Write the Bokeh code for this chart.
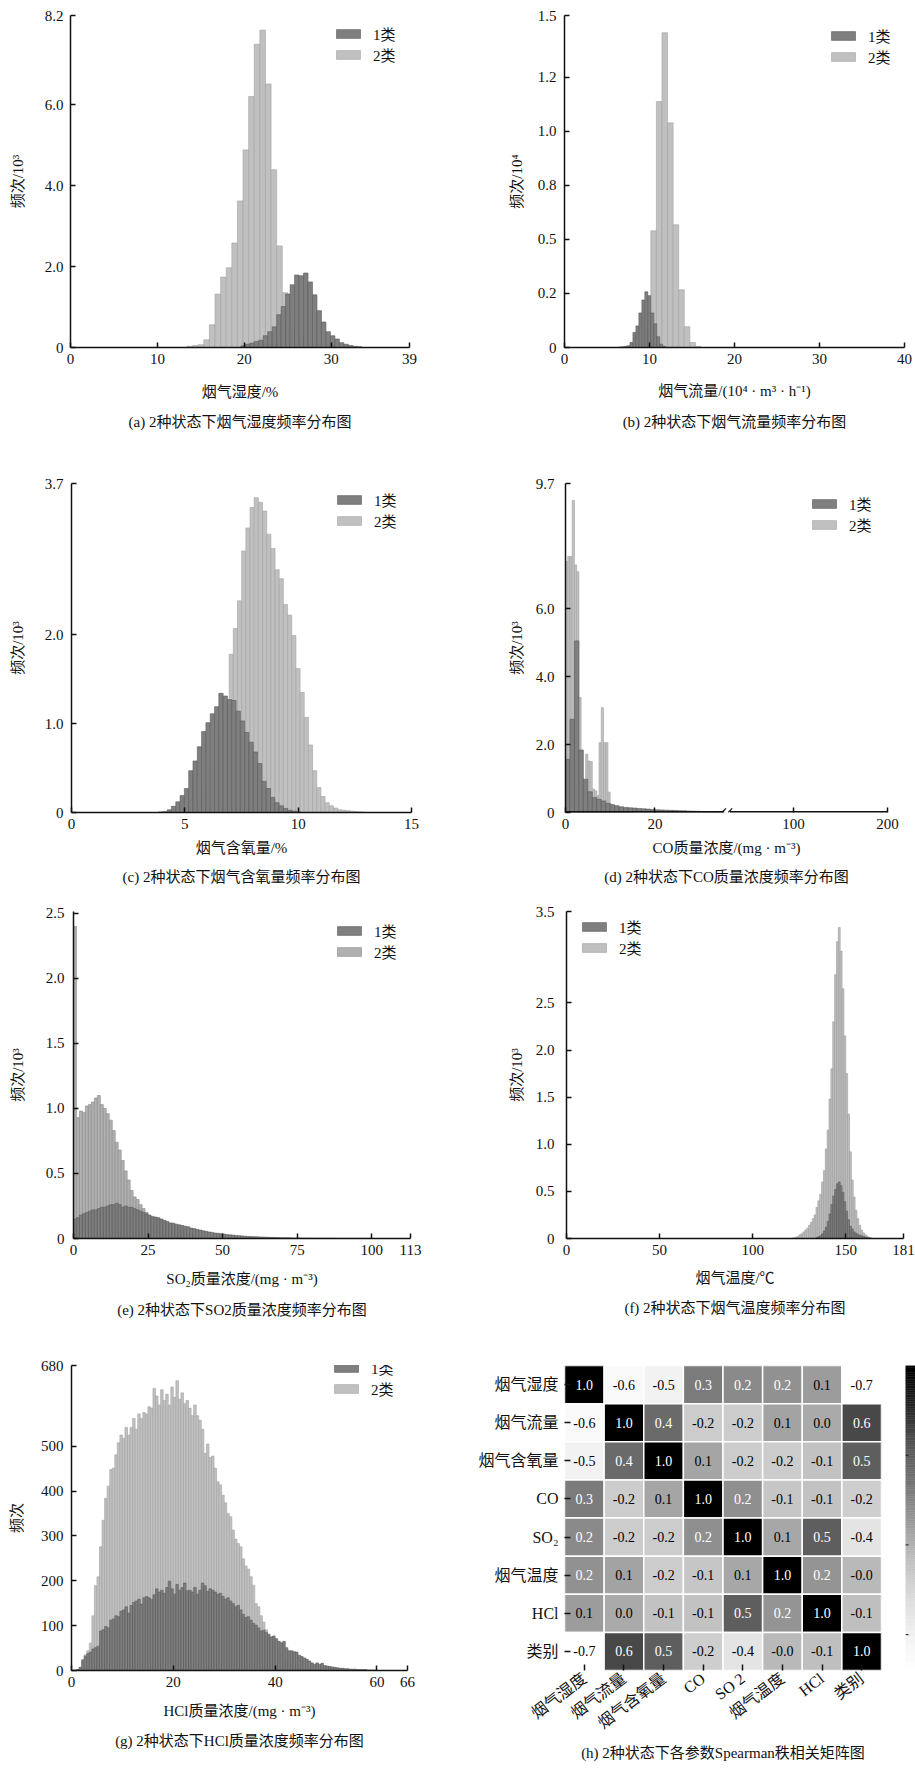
import numpy as np
from bokeh.plotting import figure
from bokeh.models import (Range1d, FixedTicker, Legend, LegendItem, Title,
                          ColumnDataSource, LinearColorMapper, FactorRange)
from bokeh.layouts import row, column
from bokeh.embed import file_html
from bokeh.resources import INLINE
from bokeh.core.properties import value
from bokeh.transform import transform

# ======================= DATA =======================
# (a) flue-gas humidity, counts in 10^3
hum_c1_start, hum_c1_width = 19.6, 0.515
hum_c1 = [0.04, 0.08, 0.11, 0.15, 0.18, 0.29, 0.39, 0.51, 0.81, 1.01, 1.32, 1.55, 1.79, 1.77,
          1.84, 1.62, 1.30, 0.91, 0.63, 0.39, 0.29, 0.21, 0.12, 0.08, 0.05, 0.03, 0.02]
hum_c2_start, hum_c2_width = 13.4, 0.645
hum_c2 = [0.03, 0.05, 0.07, 0.19, 0.56, 1.32, 1.74, 1.97, 2.58, 3.62, 4.88, 6.20, 7.49, 7.84,
          6.51, 4.39, 2.51, 1.35, 0.80, 0.45, 0.22, 0.09, 0.03]
hum_xticks = [0, 10, 20, 30, 39]
hum_yticks = [0, 2.0, 4.0, 6.0, 8.2]
hum_ylabels = ["0", "2.0", "4.0", "6.0", "8.2"]

# (b) flue-gas flow, counts in 10^4
flow_c1_start, flow_c1_width = 6.3, 0.35
flow_c1 = [0.002, 0.003, 0.005, 0.008, 0.023, 0.07, 0.10, 0.16, 0.22, 0.258, 0.24, 0.16,
           0.11, 0.05, 0.015, 0.005]
flow_c2_start, flow_c2_width = 9.5, 0.656
flow_c2 = [0.12, 0.54, 1.139, 1.457, 1.04, 0.568, 0.267, 0.096, 0.023, 0.005]
flow_xticks = [0, 10, 20, 30, 40]
flow_yticks = [0, 0.25, 0.5, 0.75, 1.0, 1.25, 1.537]
flow_ylabels = ["0", "0.2", "0.5", "0.8", "1.0", "1.2", "1.5"]

# (c) oxygen content, counts in 10^3
oxy_c1_start, oxy_c1_width = 3.84, 0.19
oxy_c1 = [0.007, 0.01, 0.03, 0.07, 0.12, 0.19, 0.27, 0.47, 0.58, 0.74, 0.91, 1.01, 1.11, 1.19,
          1.34, 1.31, 1.27, 1.26, 1.14, 1.03, 0.90, 0.79, 0.68, 0.55, 0.35, 0.27, 0.17, 0.11,
          0.075, 0.045, 0.025, 0.015, 0.007]
oxy_c2_start, oxy_c2_width = 4.38, 0.184
oxy_c2 = [0.002, 0.004, 0.009, 0.018, 0.035, 0.065, 0.11, 0.18, 0.28, 0.42, 0.6, 0.8, 1.05, 1.25,
          1.78, 2.07, 2.38, 2.94, 3.20, 3.43, 3.54, 3.49, 3.39, 3.13, 2.97, 2.73, 2.63, 2.34,
          2.22, 1.99, 1.62, 1.35, 1.07, 0.76, 0.47, 0.28, 0.18, 0.11, 0.075, 0.05, 0.03, 0.025,
          0.02, 0.015, 0.01, 0.007, 0.004]
oxy_xticks = [0, 5, 10, 15]
oxy_yticks = [0, 1.0, 2.0, 3.7]
oxy_ylabels = ["0", "1.0", "2.0", "3.7"]

# (d) CO concentration, counts in 10^3 (broken x axis)
co_c1_start, co_c1_width = 0.0, 1.0
co_c1 = [1.57, 2.75, 5.06, 1.84, 0.98, 0.61, 0.44, 0.39, 0.34, 0.27, 0.23, 0.20, 0.17, 0.15,
         0.14, 0.13, 0.12, 0.11, 0.10, 0.09, 0.08, 0.075, 0.07, 0.065, 0.06, 0.055, 0.05,
         0.045, 0.04, 0.035, 0.03, 0.028, 0.025, 0.02, 0.015]
co_c2_start, co_c2_width = 0.0, 0.5
co_c2 = [7.4, 7.55, 7.55, 9.2, 7.3, 7.1, 3.39, 1.0, 0.95, 1.72, 1.52, 1.5, 0.69, 0.64, 0.5,
         2.06, 3.09, 2.06, 2.06, 0.6, 0.25, 0.2, 0.16, 0.14, 0.12, 0.1, 0.09, 0.08, 0.07, 0.06]
co_xticks = [0, 20, 100, 200]
co_yticks = [0, 2.0, 4.0, 6.0, 9.7]
co_ylabels = ["0", "2.0", "4.0", "6.0", "9.7"]

# (e) SO2 concentration, counts in 10^3
so2_c1_start, so2_c1_width = 0.0, 1.0
so2_c1 = [0.15, 0.16, 0.18, 0.19, 0.20, 0.21, 0.22, 0.22, 0.23, 0.24,
          0.24, 0.25, 0.26, 0.26, 0.27, 0.26, 0.24, 0.25, 0.24, 0.24,
          0.23, 0.22, 0.21, 0.20, 0.19, 0.18, 0.17, 0.165, 0.16, 0.15,
          0.14, 0.13, 0.12, 0.118, 0.11, 0.105, 0.10, 0.094, 0.09, 0.08,
          0.076, 0.07, 0.065, 0.06, 0.055, 0.05, 0.047, 0.042, 0.04, 0.037,
          0.034, 0.03, 0.028, 0.026, 0.024, 0.022, 0.02, 0.018, 0.016, 0.015,
          0.014, 0.013, 0.012, 0.011, 0.010, 0.009, 0.008, 0.008, 0.007, 0.006,
          0.006, 0.005, 0.005, 0.004, 0.004, 0.004, 0.003, 0.003, 0.003, 0.003,
          0.002, 0.002, 0.002, 0.002, 0.002, 0.002, 0.002, 0.002, 0.001, 0.001,
          0.001, 0.001, 0.001, 0.001, 0.001, 0.001, 0.001, 0.001, 0.001, 0.001]
so2_c2_start, so2_c2_width = 0.0, 1.0
so2_c2 = [2.4, 0.93, 0.98, 0.97, 1.02, 1.03, 1.05, 1.08, 1.10, 1.03, 1.0, 0.96, 0.91, 0.83,
          0.74, 0.68, 0.60, 0.52, 0.45, 0.37, 0.32, 0.30, 0.26, 0.23, 0.20, 0.17, 0.16, 0.15,
          0.14, 0.13, 0.12, 0.11, 0.10, 0.09, 0.08, 0.07, 0.06, 0.05, 0.04, 0.03, 0.02]
so2_xticks = [0, 25, 50, 75, 100, 113]
so2_yticks = [0, 0.5, 1.0, 1.5, 2.0, 2.5]
so2_ylabels = ["0", "0.5", "1.0", "1.5", "2.0", "2.5"]

# (f) flue-gas temperature, counts in 10^3
tmp_c1_start, tmp_c1_width = 134.0, 1.0
tmp_c1 = [0.01, 0.02, 0.03, 0.05, 0.08, 0.12, 0.18, 0.26, 0.36, 0.45, 0.52, 0.58, 0.60, 0.56,
          0.49, 0.39, 0.29, 0.20, 0.13, 0.10, 0.07, 0.055, 0.045, 0.035, 0.03, 0.02, 0.015,
          0.01, 0.005]
tmp_c2_start, tmp_c2_width = 121.0, 1.0
tmp_c2 = [0.005, 0.008, 0.015, 0.025, 0.04, 0.05, 0.07, 0.09, 0.11, 0.14, 0.17, 0.21, 0.25,
          0.33, 0.40, 0.47, 0.60, 0.72, 0.95, 1.15, 1.48, 1.80, 2.30, 2.80, 3.15, 3.30, 3.05,
          2.65, 2.15, 1.75, 1.32, 0.92, 0.62, 0.44, 0.30, 0.21, 0.14, 0.09, 0.06, 0.04, 0.025,
          0.015, 0.008]
tmp_xticks = [0, 50, 100, 150, 181]
tmp_yticks = [0, 0.5, 1.0, 1.5, 2.0, 2.5, 3.47]
tmp_ylabels = ["0", "0.5", "1.0", "1.5", "2.0", "2.5", "3.5"]

# (g) HCl concentration, counts
hcl_c1_start, hcl_c1_width = 0.0, 0.5
hcl_c1 = [0, 0, 2, 7, 24, 32, 38, 41, 48, 51,
          54, 88, 91, 98, 95, 112, 115, 122, 120, 132,
          135, 142, 128, 145, 152, 155, 159, 148, 162, 165,
          162, 158, 169, 182, 175, 179, 172, 185, 199, 182,
          170, 192, 179, 185, 195, 178, 179, 175, 185, 170,
          179, 195, 189, 176, 182, 179, 175, 170, 172, 165,
          159, 162, 155, 149, 142, 145, 135, 125, 118, 120,
          112, 105, 101, 95, 88, 90, 85, 81, 75, 77,
          71, 65, 62, 65, 51, 44, 44, 42, 41, 34,
          31, 28, 25, 21, 17, 14, 17, 14, 16, 11,
          10, 9, 8, 7, 6, 5, 5, 4, 4, 3,
          3, 3, 2, 2, 2, 2, 1, 1, 1, 1]
hcl_c2_start, hcl_c2_width = 0.0, 0.5
hcl_c2 = [0, 0, 2, 7, 21, 35, 44, 61, 122, 189,
          209, 276, 335, 384, 411, 448, 451, 481, 508, 525,
          518, 542, 525, 542, 562, 538, 572, 562, 575, 572,
          588, 585, 629, 612, 592, 626, 602, 616, 592, 632,
          609, 646, 605, 619, 595, 602, 585, 568, 592, 568,
          558, 538, 484, 505, 475, 478, 451, 421, 414, 391,
          374, 350, 343, 313, 293, 283, 276, 249, 233, 226,
          209, 190, 149, 142, 122, 108, 91, 71, 60, 54,
          48, 42, 36, 30, 25, 20, 16, 12, 9, 6]
hcl_xticks = [0, 20, 40, 60, 66]
hcl_yticks = [0, 100, 200, 300, 400, 500, 680]
hcl_ylabels = ["0", "100", "200", "300", "400", "500", "680"]

# (h) Spearman rank correlation matrix
corr_xlabels = ["烟气湿度", "烟气流量", "烟气含氧量", "CO", "SO 2", "烟气温度", "HCl", "类别"]
corr_ylabels = ["烟气湿度", "烟气流量", "烟气含氧量", "CO", "SO₂", "烟气温度", "HCl", "类别"]
corr = [
    [1.00, -0.62, -0.52, 0.31, 0.22, 0.18, 0.12, -0.70],
    [-0.62, 1.00, 0.42, -0.18, -0.17, 0.08, 0.04, 0.62],
    [-0.52, 0.42, 1.00, 0.07, -0.18, -0.17, -0.10, 0.50],
    [0.31, -0.18, 0.07, 1.00, 0.19, -0.13, -0.10, -0.19],
    [0.22, -0.17, -0.18, 0.19, 1.00, 0.06, 0.50, -0.38],
    [0.18, 0.08, -0.17, -0.13, 0.06, 1.00, 0.16, -0.04],
    [0.12, 0.04, -0.10, -0.10, 0.50, 0.16, 1.00, -0.08],
    [-0.70, 0.62, 0.50, -0.19, -0.38, -0.04, -0.08, 1.00],
]
cbar_ticks = [-0.5, 0.0, 0.5]

series_names = ["1类", "2类"]

# ======================= STYLE / LAYOUT =======================
FONT = "Liberation Serif, Noto Sans CJK SC"
DARK, DARK_EDGE = "#7f7f7f", "#5a5a5a"
LIGHT, LIGHT_EDGE = "#c0c0c0", "#a2a2a2"
FS = "15px"
W_L, W_R = 457, 458
ROW_H = [445, 448, 437, 439]


def style_axis(ax, ticks, labels, tick_std, lab_std):
    ax.ticker = FixedTicker(ticks=ticks)
    if labels is not None:
        ax.major_label_overrides = {t: l for t, l in zip(ticks, labels)}
    ax.major_tick_in = 5
    ax.major_tick_out = 0
    ax.minor_tick_in = 0
    ax.minor_tick_out = 0
    ax.axis_line_width = 1.5
    ax.major_tick_line_width = 1.5
    ax.axis_line_color = "#111111"
    ax.major_tick_line_color = "#111111"
    ax.major_label_text_font = FONT
    ax.major_label_text_font_size = FS
    ax.major_label_text_color = "#111111"
    ax.major_label_standoff = tick_std
    ax.axis_label_text_font = FONT
    ax.axis_label_text_font_size = FS
    ax.axis_label_text_font_style = "normal"
    ax.axis_label_text_color = "#111111"
    ax.axis_label_standoff = lab_std


def hist_fig(width, height, borders, xmax, ymax, xticks, xlabels, yticks, ylabels,
             xtitle, ytitle, caption, bars, leg_xy, ystd, xstd, cap_std):
    left, right, top, bottom = borders
    p = figure(width=width, height=height, x_range=Range1d(0, xmax), y_range=Range1d(0, ymax),
               output_backend="svg", toolbar_location=None, tools="", sizing_mode="fixed")
    p.min_border_left, p.min_border_right = left, right
    p.min_border_top, p.min_border_bottom = top, bottom
    p.grid.visible = False
    p.outline_line_color = None
    rends = []
    for start, w, counts, fill, edge in bars:
        lefts = [start + i * w for i in range(len(counts))]
        rights = [l + w for l in lefts]
        r = p.quad(left=lefts, right=rights, bottom=0, top=counts, fill_color=fill,
                   line_color=edge, line_width=0.6)
        rends.append(r)
    style_axis(p.xaxis[0], xticks, xlabels, 6, xstd)
    style_axis(p.yaxis[0], yticks, ylabels, ystd[0], ystd[1])
    p.xaxis.axis_label = xtitle
    p.yaxis.axis_label = ytitle
    frame_h = height - top - bottom
    lx, gtop = leg_xy
    leg = Legend(items=[LegendItem(label=series_names[0], renderers=[rends[1]]),
                        LegendItem(label=series_names[1], renderers=[rends[0]])],
                 location=(lx, frame_h - gtop - 37))
    leg.label_text_font = FONT
    leg.label_text_font_size = FS
    leg.label_text_color = "#111111"
    leg.glyph_width = 30
    leg.glyph_height = 11
    leg.label_height = 17
    leg.label_standoff = 10
    leg.spacing = -2
    leg.padding = 0
    leg.margin = 0
    leg.border_line_color = None
    leg.background_fill_alpha = 0
    p.add_layout(leg)
    t = Title(text=caption, align="center", text_font=FONT, text_font_size=FS,
              text_font_style="normal", text_color="#111111", standoff=cap_std)
    p.add_layout(t, "below")
    return p, rends


# (a)
pa, _ = hist_fig(W_L, ROW_H[0], (70, 48, 14, 98), 39, 8.2, hum_xticks, None, hum_yticks,
                 hum_ylabels, "烟气湿度/%", "频次/10³", "(a) 2种状态下烟气湿度频率分布图",
                 [(hum_c2_start, hum_c2_width, hum_c2, LIGHT, LIGHT_EDGE),
                  (hum_c1_start, hum_c1_width, hum_c1, DARK, DARK_EDGE)],
                 (263, 14), (7, 16), 17, 19)
# (b)
pb, _ = hist_fig(W_R, ROW_H[0], (107, 11, 15, 98), 40, 1.537, flow_xticks, None, flow_yticks,
                 flow_ylabels, "烟气流量/(10⁴ · m³ · h⁻¹)", "频次/10⁴",
                 "(b) 2种状态下烟气流量频率分布图",
                 [(flow_c2_start, flow_c2_width, flow_c2, LIGHT, LIGHT_EDGE),
                  (flow_c1_start, flow_c1_width, flow_c1, DARK, DARK_EDGE)],
                 (264, 15), (8, 10), 16, 20)
# (c)
pc, _ = hist_fig(W_L, ROW_H[1], (71, 46, 34, 81), 15, 3.7, oxy_xticks, None, oxy_yticks,
                 oxy_ylabels, "烟气含氧量/%", "频次/10³", "(c) 2种状态下烟气含氧量频率分布图",
                 [(oxy_c2_start, oxy_c2_width, oxy_c2, LIGHT, LIGHT_EDGE),
                  (oxy_c1_start, oxy_c1_width, oxy_c1, DARK, DARK_EDGE)],
                 (263, 15), (8, 16), 8, 16)


# (d) broken x axis: display coordinate for tick values
def co_disp(v):
    return v if v <= 36 else 51.0 + (v - 100) * 0.2105


co_tick_pos = [co_disp(v) for v in co_xticks]
pd_, _ = hist_fig(W_R, ROW_H[1], (108, 28, 38, 81), co_disp(200), 9.7, co_tick_pos,
                  [str(v) for v in co_xticks], co_yticks, co_ylabels,
                  "CO质量浓度/(mg · m⁻³)", "频次/10³", "(d) 2种状态下CO质量浓度频率分布图",
                  [(co_c2_start, co_c2_width, co_c2, LIGHT, LIGHT_EDGE),
                   (co_c1_start, co_c1_width, co_c1, DARK, DARK_EDGE)],
                  (244, 15), (11, 8), 8, 16)
pd_.xaxis.axis_line_color = None
pd_.segment(x0=[0, co_disp(100) - 14.2], x1=[35.5, co_disp(200)], y0=[0, 0], y1=[0, 0],
            line_color="#111111", line_width=3)
pd_.segment(x0=[35.0, 36.4], x1=[35.9, 37.3], y0=[0.0, 0.0], y1=[0.12, 0.12],
            line_color="#111111", line_width=1.2)

# (e)
pe, _ = hist_fig(W_L, ROW_H[2], (73, 47, 18, 92), 113, 2.515, so2_xticks, None, so2_yticks,
                 so2_ylabels, "SO₂质量浓度/(mg · m⁻³)", "频次/10³",
                 "(e) 2种状态下SO2质量浓度频率分布图",
                 [(so2_c2_start, so2_c2_width, so2_c2, "#b0b0b0", "#8a8a8a"),
                  (so2_c1_start, so2_c1_width, so2_c1, DARK, DARK_EDGE)],
                 (261, 14), (9, 17), 13, 21)
# (f)
pf, _ = hist_fig(W_R, ROW_H[2], (109, 12, 15, 89), 181, 3.47, tmp_xticks, None, tmp_yticks,
                 tmp_ylabels, "烟气温度/℃", "频次/10³", "(f) 2种状态下烟气温度频率分布图",
                 [(tmp_c2_start, tmp_c2_width, tmp_c2, LIGHT, "#9a9a9a"),
                  (tmp_c1_start, tmp_c1_width, tmp_c1, DARK, DARK_EDGE)],
                 (13, 16), (12, 8), 12, 19)
# (g)
pg, _ = hist_fig(W_L, ROW_H[3], (71, 50, 35, 82), 66, 680, hcl_xticks, None,
                 hcl_yticks, hcl_ylabels, "HCl质量浓度/(mg · m⁻³)", "频次",
                 "(g) 2种状态下HCl质量浓度频率分布图",
                 [(hcl_c2_start, hcl_c2_width, hcl_c2, LIGHT, LIGHT_EDGE),
                  (hcl_c1_start, hcl_c1_width, hcl_c1, DARK, DARK_EDGE)],
                 (260, 14), (8, 13), 13, 18)

# (h) heatmap
stops = ["#ffffff", "#f0f0f0", "#d9d9d9", "#bdbdbd", "#969696", "#737373", "#525252",
         "#252525", "#000000"]


def _rgb(h):
    return tuple(int(h[i:i + 2], 16) for i in (1, 3, 5))


pal = []
for k in range(256):
    tt = k / 255 * (len(stops) - 1)
    i = min(int(tt), len(stops) - 2)
    f = tt - i
    a, b = _rgb(stops[i]), _rgb(stops[i + 1])
    pal.append("#%02x%02x%02x" % tuple(round(a[j] + (b[j] - a[j]) * f) for j in range(3)))
mapper = LinearColorMapper(palette=pal, low=-0.7, high=1.0)

xs, ys, vs, ts, tcs = [], [], [], [], []
for i, yl in enumerate(corr_ylabels):
    for j, xl in enumerate(corr_xlabels):
        v = corr[i][j]
        xs.append(xl)
        ys.append(yl)
        vs.append(v)
        ts.append("%.1f" % v)
        tcs.append("white" if v >= 0.15 else "black")
src = ColumnDataSource(dict(x=xs, y=ys, v=vs, t=ts, tc=tcs))

ph = figure(width=448, height=ROW_H[3], x_range=FactorRange(*corr_xlabels),
            y_range=FactorRange(*corr_ylabels[::-1]), output_backend="svg",
            toolbar_location=None, tools="", sizing_mode="fixed")
ph.min_border_left, ph.min_border_right, ph.min_border_top, ph.min_border_bottom = 107, 24, 28, 94
ph.grid.visible = False
ph.outline_line_color = None
ph.rect(x="x", y="y", width=1, height=1, source=src, fill_color=transform("v", mapper),
        line_color="white", line_width=1.5)
ph.text(x="x", y="y", text="t", source=src, text_color="tc", text_align="center",
        text_baseline="middle", text_font=value(FONT), text_font_size="14px")
for ax in (ph.xaxis[0], ph.yaxis[0]):
    ax.axis_line_color = None
    ax.major_tick_in = 6
    ax.major_tick_out = 0
    ax.major_tick_line_color = "#111111"
    ax.major_tick_line_width = 1.5
    ax.major_label_text_font = FONT
    ax.major_label_text_font_size = "16px"
    ax.major_label_text_color = "#111111"
    ax.major_label_standoff = 6
ph.xaxis.major_label_orientation = 0.65
ph.xaxis.axis_label = "(h) 2种状态下各参数Spearman秩相关矩阵图"
ph.xaxis.axis_label_text_font = FONT
ph.xaxis.axis_label_text_font_size = FS
ph.xaxis.axis_label_text_font_style = "normal"
ph.xaxis.axis_label_text_color = "#111111"
ph.xaxis.axis_label_standoff = 4

# colour bar (cut by the page edge, as in the reference)
cb = figure(width=10, height=ROW_H[3], x_range=Range1d(0, 1), y_range=Range1d(-0.7, 1.0),
            x_axis_type=None, y_axis_type=None, output_backend="svg",
            toolbar_location=None, tools="", sizing_mode="fixed")
cb.min_border_left, cb.min_border_right, cb.min_border_top, cb.min_border_bottom = 0, 0, 27, 99
cb.grid.visible = False
cb.outline_line_color = None
lv = np.linspace(-0.7, 1.0, 171)
cbs = ColumnDataSource(dict(b=lv[:-1], t=lv[1:], m=(lv[:-1] + lv[1:]) / 2))
cb.quad(left=0, right=1, bottom="b", top="t", source=cbs, fill_color=transform("m", mapper),
        line_color=transform("m", mapper), line_width=0.5)
cb.segment(x0=0, x1=0.3, y0=cbar_ticks, y1=cbar_ticks, line_color="#111111", line_width=1)

TOTAL_W = W_L + W_R
rows = [row(pa, pb, width=TOTAL_W, height=ROW_H[0], sizing_mode="fixed"),
        row(pc, pd_, width=TOTAL_W, height=ROW_H[1], sizing_mode="fixed"),
        row(pe, pf, width=TOTAL_W, height=ROW_H[2], sizing_mode="fixed"),
        row(pg, ph, cb, width=TOTAL_W, height=ROW_H[3], sizing_mode="fixed")]
layout = column(*rows, width=TOTAL_W, height=sum(ROW_H), sizing_mode="fixed")
open("out.html", "w").write(file_html(layout, INLINE))
